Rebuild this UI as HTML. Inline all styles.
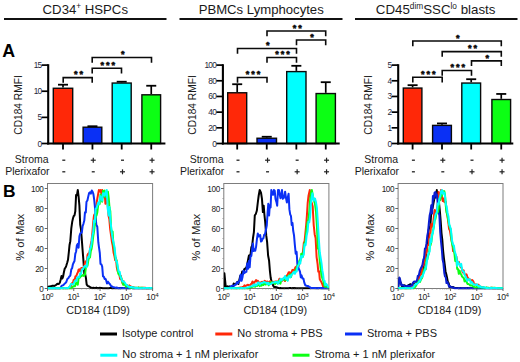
<!DOCTYPE html>
<html><head><meta charset="utf-8"><title>Figure</title>
<style>
html,body{margin:0;padding:0;background:#fff;}
body{width:520px;height:362px;overflow:hidden;}
svg{display:block;font-family:"Liberation Sans", Arial, sans-serif;}
</style></head><body>
<svg width="520" height="362" viewBox="0 0 520 362">
<rect width="520" height="362" fill="#fff"/>
<line x1="4.00" y1="18.90" x2="166.50" y2="18.90" stroke="#111" stroke-width="2.0" />
<line x1="179.50" y1="18.90" x2="342.50" y2="18.90" stroke="#111" stroke-width="2.0" />
<line x1="355.00" y1="18.90" x2="517.50" y2="18.90" stroke="#111" stroke-width="2.0" />
<text x="85.30" y="14.00" font-size="13.2" text-anchor="middle" font-weight="normal" fill="#1a1a1a" >CD34<tspan font-size="8.2" dy="-4.8">+</tspan><tspan dy="4.8"> HSPCs</tspan></text>
<text x="261.20" y="14.00" font-size="13.15" text-anchor="middle" font-weight="normal" fill="#1a1a1a" >PBMCs Lymphocytes</text>
<text x="435.60" y="14.00" font-size="13.3" text-anchor="middle" font-weight="normal" fill="#1a1a1a" >CD45<tspan font-size="8.3" dy="-4.8">dim</tspan><tspan dy="4.8">SSC</tspan><tspan font-size="8.3" dy="-4.8">lo</tspan><tspan dy="4.8"> blasts</tspan></text>
<text x="2.20" y="57.20" font-size="17.8" text-anchor="start" font-weight="bold" fill="#000" >A</text>
<text x="3.00" y="197.00" font-size="17.4" text-anchor="start" font-weight="bold" fill="#000" >B</text>
<line x1="63.00" y1="87.57" x2="63.00" y2="84.70" stroke="#000" stroke-width="1.7" />
<line x1="58.00" y1="84.70" x2="68.00" y2="84.70" stroke="#000" stroke-width="1.8" />
<rect x="53.30" y="88.27" width="19.40" height="55.23" fill="#ff2808" stroke="#0a0a0a" stroke-width="1.4"/>
<line x1="63.00" y1="143.50" x2="63.00" y2="149.50" stroke="#000" stroke-width="1.8" />
<line x1="92.45" y1="126.51" x2="92.45" y2="126.25" stroke="#000" stroke-width="1.7" />
<line x1="87.45" y1="126.25" x2="97.45" y2="126.25" stroke="#000" stroke-width="1.8" />
<rect x="83.10" y="127.21" width="18.70" height="16.29" fill="#0a30f5" stroke="#0a0a0a" stroke-width="1.4"/>
<line x1="92.45" y1="143.50" x2="92.45" y2="149.50" stroke="#000" stroke-width="1.8" />
<line x1="121.70" y1="82.35" x2="121.70" y2="81.72" stroke="#000" stroke-width="1.7" />
<line x1="116.70" y1="81.72" x2="126.70" y2="81.72" stroke="#000" stroke-width="1.8" />
<rect x="112.20" y="83.05" width="19.00" height="60.45" fill="#00ffff" stroke="#0a0a0a" stroke-width="1.4"/>
<line x1="121.70" y1="143.50" x2="121.70" y2="149.50" stroke="#000" stroke-width="1.8" />
<line x1="151.25" y1="94.11" x2="151.25" y2="85.75" stroke="#000" stroke-width="1.7" />
<line x1="146.25" y1="85.75" x2="156.25" y2="85.75" stroke="#000" stroke-width="1.8" />
<rect x="141.90" y="94.81" width="18.70" height="48.69" fill="#0cff14" stroke="#0a0a0a" stroke-width="1.4"/>
<line x1="151.25" y1="143.50" x2="151.25" y2="149.50" stroke="#000" stroke-width="1.8" />
<line x1="48.20" y1="64.20" x2="48.20" y2="144.50" stroke="#000" stroke-width="2.1" />
<line x1="47.20" y1="143.50" x2="165.40" y2="143.50" stroke="#000" stroke-width="2.0" />
<line x1="41.60" y1="143.50" x2="48.20" y2="143.50" stroke="#000" stroke-width="1.7" />
<text x="41.40" y="146.50" font-size="8.3" text-anchor="end" font-weight="normal" fill="#26263a" letter-spacing="-0.75">0</text>
<line x1="41.60" y1="117.37" x2="48.20" y2="117.37" stroke="#000" stroke-width="1.7" />
<text x="41.40" y="120.37" font-size="8.3" text-anchor="end" font-weight="normal" fill="#26263a" letter-spacing="-0.75">5</text>
<line x1="41.60" y1="91.23" x2="48.20" y2="91.23" stroke="#000" stroke-width="1.7" />
<text x="41.40" y="94.23" font-size="8.3" text-anchor="end" font-weight="normal" fill="#26263a" letter-spacing="-0.75">10</text>
<line x1="41.60" y1="65.10" x2="48.20" y2="65.10" stroke="#000" stroke-width="1.7" />
<text x="41.40" y="68.10" font-size="8.3" text-anchor="end" font-weight="normal" fill="#26263a" letter-spacing="-0.75">15</text>
<text transform="translate(22,105) rotate(-90)" font-size="10.2" text-anchor="middle" fill="#1a1a1a">CD184 RMFI</text>
<polyline points="63.2,82.8 63.2,77.6 92.2,77.6 92.2,82.8" fill="none" stroke="#0a0a0a" stroke-width="1.6"/>
<text x="75.75" y="77.20" font-size="9" text-anchor="middle" fill="#0a0a0a" stroke="#0a0a0a" stroke-width="0.55" stroke-linejoin="round" font-weight="bold">*</text>
<text x="81.25" y="77.20" font-size="9" text-anchor="middle" fill="#0a0a0a" stroke="#0a0a0a" stroke-width="0.55" stroke-linejoin="round" font-weight="bold">*</text>
<polyline points="92.2,73.4 92.2,68.2 121.5,68.2 121.5,73.4" fill="none" stroke="#0a0a0a" stroke-width="1.6"/>
<text x="102.15" y="67.80" font-size="9" text-anchor="middle" fill="#0a0a0a" stroke="#0a0a0a" stroke-width="0.55" stroke-linejoin="round" font-weight="bold">*</text>
<text x="107.65" y="67.80" font-size="9" text-anchor="middle" fill="#0a0a0a" stroke="#0a0a0a" stroke-width="0.55" stroke-linejoin="round" font-weight="bold">*</text>
<text x="113.15" y="67.80" font-size="9" text-anchor="middle" fill="#0a0a0a" stroke="#0a0a0a" stroke-width="0.55" stroke-linejoin="round" font-weight="bold">*</text>
<polyline points="92.2,62.7 92.2,57.5 151.5,57.5 151.5,62.7" fill="none" stroke="#0a0a0a" stroke-width="1.6"/>
<text x="122.65" y="57.10" font-size="9" text-anchor="middle" fill="#0a0a0a" stroke="#0a0a0a" stroke-width="0.55" stroke-linejoin="round" font-weight="bold">*</text>
<text x="48.70" y="163.20" font-size="10.5" text-anchor="end" font-weight="normal" fill="#1a1a1a" >Stroma</text>
<text x="49.50" y="174.80" font-size="10.5" text-anchor="end" font-weight="normal" fill="#1a1a1a" >Plerixafor</text>
<line x1="62.30" y1="160.20" x2="65.30" y2="160.20" stroke="#222" stroke-width="1.3" />
<line x1="62.30" y1="171.80" x2="65.30" y2="171.80" stroke="#222" stroke-width="1.3" />
<line x1="90.75" y1="160.20" x2="95.75" y2="160.20" stroke="#222" stroke-width="1.2" />
<line x1="93.25" y1="157.70" x2="93.25" y2="162.70" stroke="#222" stroke-width="1.2" />
<line x1="91.75" y1="171.80" x2="94.75" y2="171.80" stroke="#222" stroke-width="1.3" />
<line x1="121.00" y1="160.20" x2="124.00" y2="160.20" stroke="#222" stroke-width="1.3" />
<line x1="120.00" y1="171.80" x2="125.00" y2="171.80" stroke="#222" stroke-width="1.2" />
<line x1="122.50" y1="169.30" x2="122.50" y2="174.30" stroke="#222" stroke-width="1.2" />
<line x1="149.55" y1="160.20" x2="154.55" y2="160.20" stroke="#222" stroke-width="1.2" />
<line x1="152.05" y1="157.70" x2="152.05" y2="162.70" stroke="#222" stroke-width="1.2" />
<line x1="149.55" y1="171.80" x2="154.55" y2="171.80" stroke="#222" stroke-width="1.2" />
<line x1="152.05" y1="169.30" x2="152.05" y2="174.30" stroke="#222" stroke-width="1.2" />
<line x1="237.20" y1="92.07" x2="237.20" y2="84.23" stroke="#000" stroke-width="1.7" />
<line x1="232.20" y1="84.23" x2="242.20" y2="84.23" stroke="#000" stroke-width="1.8" />
<rect x="227.70" y="92.77" width="19.00" height="50.73" fill="#ff2808" stroke="#0a0a0a" stroke-width="1.4"/>
<line x1="237.20" y1="143.50" x2="237.20" y2="149.50" stroke="#000" stroke-width="1.8" />
<line x1="266.75" y1="137.54" x2="266.75" y2="136.76" stroke="#000" stroke-width="1.7" />
<line x1="261.75" y1="136.76" x2="271.75" y2="136.76" stroke="#000" stroke-width="1.8" />
<rect x="257.00" y="138.24" width="19.50" height="5.26" fill="#0a30f5" stroke="#0a0a0a" stroke-width="1.4"/>
<line x1="266.75" y1="143.50" x2="266.75" y2="149.50" stroke="#000" stroke-width="1.8" />
<line x1="296.35" y1="70.90" x2="296.35" y2="65.81" stroke="#000" stroke-width="1.7" />
<line x1="291.35" y1="65.81" x2="301.35" y2="65.81" stroke="#000" stroke-width="1.8" />
<rect x="286.70" y="71.60" width="19.30" height="71.90" fill="#00ffff" stroke="#0a0a0a" stroke-width="1.4"/>
<line x1="296.35" y1="143.50" x2="296.35" y2="149.50" stroke="#000" stroke-width="1.8" />
<line x1="325.75" y1="92.85" x2="325.75" y2="82.19" stroke="#000" stroke-width="1.7" />
<line x1="320.75" y1="82.19" x2="330.75" y2="82.19" stroke="#000" stroke-width="1.8" />
<rect x="316.10" y="93.55" width="19.30" height="49.95" fill="#0cff14" stroke="#0a0a0a" stroke-width="1.4"/>
<line x1="325.75" y1="143.50" x2="325.75" y2="149.50" stroke="#000" stroke-width="1.8" />
<line x1="222.90" y1="64.20" x2="222.90" y2="144.50" stroke="#000" stroke-width="2.1" />
<line x1="221.90" y1="143.50" x2="339.70" y2="143.50" stroke="#000" stroke-width="2.0" />
<line x1="216.30" y1="143.50" x2="222.90" y2="143.50" stroke="#000" stroke-width="1.7" />
<text x="216.10" y="146.50" font-size="8.3" text-anchor="end" font-weight="normal" fill="#26263a" letter-spacing="-0.75">0</text>
<line x1="216.30" y1="127.82" x2="222.90" y2="127.82" stroke="#000" stroke-width="1.7" />
<text x="216.10" y="130.82" font-size="8.3" text-anchor="end" font-weight="normal" fill="#26263a" letter-spacing="-0.75">20</text>
<line x1="216.30" y1="112.14" x2="222.90" y2="112.14" stroke="#000" stroke-width="1.7" />
<text x="216.10" y="115.14" font-size="8.3" text-anchor="end" font-weight="normal" fill="#26263a" letter-spacing="-0.75">40</text>
<line x1="216.30" y1="96.46" x2="222.90" y2="96.46" stroke="#000" stroke-width="1.7" />
<text x="216.10" y="99.46" font-size="8.3" text-anchor="end" font-weight="normal" fill="#26263a" letter-spacing="-0.75">60</text>
<line x1="216.30" y1="80.78" x2="222.90" y2="80.78" stroke="#000" stroke-width="1.7" />
<text x="216.10" y="83.78" font-size="8.3" text-anchor="end" font-weight="normal" fill="#26263a" letter-spacing="-0.75">80</text>
<line x1="216.30" y1="65.10" x2="222.90" y2="65.10" stroke="#000" stroke-width="1.7" />
<text x="216.10" y="68.10" font-size="8.3" text-anchor="end" font-weight="normal" fill="#26263a" letter-spacing="-0.75">100</text>
<text transform="translate(196,105) rotate(-90)" font-size="10.2" text-anchor="middle" fill="#1a1a1a">CD184 RMFI</text>
<polyline points="237.5,82.7 237.5,77.5 267,77.5 267,82.7" fill="none" stroke="#0a0a0a" stroke-width="1.6"/>
<text x="247.55" y="77.10" font-size="9" text-anchor="middle" fill="#0a0a0a" stroke="#0a0a0a" stroke-width="0.55" stroke-linejoin="round" font-weight="bold">*</text>
<text x="253.05" y="77.10" font-size="9" text-anchor="middle" fill="#0a0a0a" stroke="#0a0a0a" stroke-width="0.55" stroke-linejoin="round" font-weight="bold">*</text>
<text x="258.55" y="77.10" font-size="9" text-anchor="middle" fill="#0a0a0a" stroke="#0a0a0a" stroke-width="0.55" stroke-linejoin="round" font-weight="bold">*</text>
<polyline points="267,62.7 267,57.5 296.5,57.5 296.5,62.7" fill="none" stroke="#0a0a0a" stroke-width="1.6"/>
<text x="277.05" y="57.10" font-size="9" text-anchor="middle" fill="#0a0a0a" stroke="#0a0a0a" stroke-width="0.55" stroke-linejoin="round" font-weight="bold">*</text>
<text x="282.55" y="57.10" font-size="9" text-anchor="middle" fill="#0a0a0a" stroke="#0a0a0a" stroke-width="0.55" stroke-linejoin="round" font-weight="bold">*</text>
<text x="288.05" y="57.10" font-size="9" text-anchor="middle" fill="#0a0a0a" stroke="#0a0a0a" stroke-width="0.55" stroke-linejoin="round" font-weight="bold">*</text>
<polyline points="237.5,53.7 237.5,48.5 296.5,48.5 296.5,53.7" fill="none" stroke="#0a0a0a" stroke-width="1.6"/>
<text x="267.80" y="48.10" font-size="9" text-anchor="middle" fill="#0a0a0a" stroke="#0a0a0a" stroke-width="0.55" stroke-linejoin="round" font-weight="bold">*</text>
<polyline points="296.5,45.2 296.5,40 325.7,40 325.7,45.2" fill="none" stroke="#0a0a0a" stroke-width="1.6"/>
<text x="311.90" y="39.60" font-size="9" text-anchor="middle" fill="#0a0a0a" stroke="#0a0a0a" stroke-width="0.55" stroke-linejoin="round" font-weight="bold">*</text>
<polyline points="267,36.2 267,31 325.7,31 325.7,36.2" fill="none" stroke="#0a0a0a" stroke-width="1.6"/>
<text x="294.40" y="30.60" font-size="9" text-anchor="middle" fill="#0a0a0a" stroke="#0a0a0a" stroke-width="0.55" stroke-linejoin="round" font-weight="bold">*</text>
<text x="299.90" y="30.60" font-size="9" text-anchor="middle" fill="#0a0a0a" stroke="#0a0a0a" stroke-width="0.55" stroke-linejoin="round" font-weight="bold">*</text>
<text x="223.50" y="163.20" font-size="10.5" text-anchor="end" font-weight="normal" fill="#1a1a1a" >Stroma</text>
<text x="224.30" y="174.80" font-size="10.5" text-anchor="end" font-weight="normal" fill="#1a1a1a" >Plerixafor</text>
<line x1="236.50" y1="160.20" x2="239.50" y2="160.20" stroke="#222" stroke-width="1.3" />
<line x1="236.50" y1="171.80" x2="239.50" y2="171.80" stroke="#222" stroke-width="1.3" />
<line x1="265.05" y1="160.20" x2="270.05" y2="160.20" stroke="#222" stroke-width="1.2" />
<line x1="267.55" y1="157.70" x2="267.55" y2="162.70" stroke="#222" stroke-width="1.2" />
<line x1="266.05" y1="171.80" x2="269.05" y2="171.80" stroke="#222" stroke-width="1.3" />
<line x1="295.65" y1="160.20" x2="298.65" y2="160.20" stroke="#222" stroke-width="1.3" />
<line x1="294.65" y1="171.80" x2="299.65" y2="171.80" stroke="#222" stroke-width="1.2" />
<line x1="297.15" y1="169.30" x2="297.15" y2="174.30" stroke="#222" stroke-width="1.2" />
<line x1="324.05" y1="160.20" x2="329.05" y2="160.20" stroke="#222" stroke-width="1.2" />
<line x1="326.55" y1="157.70" x2="326.55" y2="162.70" stroke="#222" stroke-width="1.2" />
<line x1="324.05" y1="171.80" x2="329.05" y2="171.80" stroke="#222" stroke-width="1.2" />
<line x1="326.55" y1="169.30" x2="326.55" y2="174.30" stroke="#222" stroke-width="1.2" />
<line x1="412.60" y1="87.37" x2="412.60" y2="85.17" stroke="#000" stroke-width="1.7" />
<line x1="407.60" y1="85.17" x2="417.60" y2="85.17" stroke="#000" stroke-width="1.8" />
<rect x="403.30" y="88.07" width="18.60" height="55.43" fill="#ff2808" stroke="#0a0a0a" stroke-width="1.4"/>
<line x1="412.60" y1="143.50" x2="412.60" y2="149.50" stroke="#000" stroke-width="1.8" />
<line x1="442.00" y1="124.68" x2="442.00" y2="123.43" stroke="#000" stroke-width="1.7" />
<line x1="437.00" y1="123.43" x2="447.00" y2="123.43" stroke="#000" stroke-width="1.8" />
<rect x="432.60" y="125.38" width="18.80" height="18.12" fill="#0a30f5" stroke="#0a0a0a" stroke-width="1.4"/>
<line x1="442.00" y1="143.50" x2="442.00" y2="149.50" stroke="#000" stroke-width="1.8" />
<line x1="471.20" y1="82.35" x2="471.20" y2="79.21" stroke="#000" stroke-width="1.7" />
<line x1="466.20" y1="79.21" x2="476.20" y2="79.21" stroke="#000" stroke-width="1.8" />
<rect x="461.80" y="83.05" width="18.80" height="60.45" fill="#00ffff" stroke="#0a0a0a" stroke-width="1.4"/>
<line x1="471.20" y1="143.50" x2="471.20" y2="149.50" stroke="#000" stroke-width="1.8" />
<line x1="501.25" y1="98.81" x2="501.25" y2="93.95" stroke="#000" stroke-width="1.7" />
<line x1="496.25" y1="93.95" x2="506.25" y2="93.95" stroke="#000" stroke-width="1.8" />
<rect x="491.90" y="99.51" width="18.70" height="43.99" fill="#0cff14" stroke="#0a0a0a" stroke-width="1.4"/>
<line x1="501.25" y1="143.50" x2="501.25" y2="149.50" stroke="#000" stroke-width="1.8" />
<line x1="398.20" y1="64.20" x2="398.20" y2="144.50" stroke="#000" stroke-width="2.1" />
<line x1="397.20" y1="143.50" x2="513.30" y2="143.50" stroke="#000" stroke-width="2.0" />
<line x1="391.60" y1="143.50" x2="398.20" y2="143.50" stroke="#000" stroke-width="1.7" />
<text x="391.40" y="146.50" font-size="8.3" text-anchor="end" font-weight="normal" fill="#26263a" letter-spacing="-0.75">0</text>
<line x1="391.60" y1="127.82" x2="398.20" y2="127.82" stroke="#000" stroke-width="1.7" />
<text x="391.40" y="130.82" font-size="8.3" text-anchor="end" font-weight="normal" fill="#26263a" letter-spacing="-0.75">1</text>
<line x1="391.60" y1="112.14" x2="398.20" y2="112.14" stroke="#000" stroke-width="1.7" />
<text x="391.40" y="115.14" font-size="8.3" text-anchor="end" font-weight="normal" fill="#26263a" letter-spacing="-0.75">2</text>
<line x1="391.60" y1="96.46" x2="398.20" y2="96.46" stroke="#000" stroke-width="1.7" />
<text x="391.40" y="99.46" font-size="8.3" text-anchor="end" font-weight="normal" fill="#26263a" letter-spacing="-0.75">3</text>
<line x1="391.60" y1="80.78" x2="398.20" y2="80.78" stroke="#000" stroke-width="1.7" />
<text x="391.40" y="83.78" font-size="8.3" text-anchor="end" font-weight="normal" fill="#26263a" letter-spacing="-0.75">4</text>
<line x1="391.60" y1="65.10" x2="398.20" y2="65.10" stroke="#000" stroke-width="1.7" />
<text x="391.40" y="68.10" font-size="8.3" text-anchor="end" font-weight="normal" fill="#26263a" letter-spacing="-0.75">5</text>
<text transform="translate(371.5,105) rotate(-90)" font-size="10.2" text-anchor="middle" fill="#1a1a1a">CD184 RMFI</text>
<polyline points="412.8,82.5 412.8,77.3 442.2,77.3 442.2,82.5" fill="none" stroke="#0a0a0a" stroke-width="1.6"/>
<text x="422.80" y="76.90" font-size="9" text-anchor="middle" fill="#0a0a0a" stroke="#0a0a0a" stroke-width="0.55" stroke-linejoin="round" font-weight="bold">*</text>
<text x="428.30" y="76.90" font-size="9" text-anchor="middle" fill="#0a0a0a" stroke="#0a0a0a" stroke-width="0.55" stroke-linejoin="round" font-weight="bold">*</text>
<text x="433.80" y="76.90" font-size="9" text-anchor="middle" fill="#0a0a0a" stroke="#0a0a0a" stroke-width="0.55" stroke-linejoin="round" font-weight="bold">*</text>
<polyline points="442.2,75.7 442.2,70.5 471.5,70.5 471.5,75.7" fill="none" stroke="#0a0a0a" stroke-width="1.6"/>
<text x="452.15" y="70.10" font-size="9" text-anchor="middle" fill="#0a0a0a" stroke="#0a0a0a" stroke-width="0.55" stroke-linejoin="round" font-weight="bold">*</text>
<text x="457.65" y="70.10" font-size="9" text-anchor="middle" fill="#0a0a0a" stroke="#0a0a0a" stroke-width="0.55" stroke-linejoin="round" font-weight="bold">*</text>
<text x="463.15" y="70.10" font-size="9" text-anchor="middle" fill="#0a0a0a" stroke="#0a0a0a" stroke-width="0.55" stroke-linejoin="round" font-weight="bold">*</text>
<polyline points="471.5,66.1 471.5,60.9 501.3,60.9 501.3,66.1" fill="none" stroke="#0a0a0a" stroke-width="1.6"/>
<text x="487.20" y="60.50" font-size="9" text-anchor="middle" fill="#0a0a0a" stroke="#0a0a0a" stroke-width="0.55" stroke-linejoin="round" font-weight="bold">*</text>
<polyline points="442.2,56.800000000000004 442.2,51.6 501.3,51.6 501.3,56.800000000000004" fill="none" stroke="#0a0a0a" stroke-width="1.6"/>
<text x="469.80" y="51.20" font-size="9" text-anchor="middle" fill="#0a0a0a" stroke="#0a0a0a" stroke-width="0.55" stroke-linejoin="round" font-weight="bold">*</text>
<text x="475.30" y="51.20" font-size="9" text-anchor="middle" fill="#0a0a0a" stroke="#0a0a0a" stroke-width="0.55" stroke-linejoin="round" font-weight="bold">*</text>
<polyline points="412.8,46.2 412.8,41.0 501.3,41.0 501.3,46.2" fill="none" stroke="#0a0a0a" stroke-width="1.6"/>
<text x="457.85" y="40.60" font-size="9" text-anchor="middle" fill="#0a0a0a" stroke="#0a0a0a" stroke-width="0.55" stroke-linejoin="round" font-weight="bold">*</text>
<text x="398.20" y="163.20" font-size="10.5" text-anchor="end" font-weight="normal" fill="#1a1a1a" >Stroma</text>
<text x="399.00" y="174.80" font-size="10.5" text-anchor="end" font-weight="normal" fill="#1a1a1a" >Plerixafor</text>
<line x1="411.90" y1="160.20" x2="414.90" y2="160.20" stroke="#222" stroke-width="1.3" />
<line x1="411.90" y1="171.80" x2="414.90" y2="171.80" stroke="#222" stroke-width="1.3" />
<line x1="440.30" y1="160.20" x2="445.30" y2="160.20" stroke="#222" stroke-width="1.2" />
<line x1="442.80" y1="157.70" x2="442.80" y2="162.70" stroke="#222" stroke-width="1.2" />
<line x1="441.30" y1="171.80" x2="444.30" y2="171.80" stroke="#222" stroke-width="1.3" />
<line x1="470.50" y1="160.20" x2="473.50" y2="160.20" stroke="#222" stroke-width="1.3" />
<line x1="469.50" y1="171.80" x2="474.50" y2="171.80" stroke="#222" stroke-width="1.2" />
<line x1="472.00" y1="169.30" x2="472.00" y2="174.30" stroke="#222" stroke-width="1.2" />
<line x1="499.55" y1="160.20" x2="504.55" y2="160.20" stroke="#222" stroke-width="1.2" />
<line x1="502.05" y1="157.70" x2="502.05" y2="162.70" stroke="#222" stroke-width="1.2" />
<line x1="499.55" y1="171.80" x2="504.55" y2="171.80" stroke="#222" stroke-width="1.2" />
<line x1="502.05" y1="169.30" x2="502.05" y2="174.30" stroke="#222" stroke-width="1.2" />
<clipPath id="c47"><rect x="47.5" y="183.5" width="105.1" height="106.2"/></clipPath>
<rect x="47.5" y="183.5" width="105.1" height="105.0" fill="none" stroke="#7d7d7d" stroke-width="1"/>
<g clip-path="url(#c47)">
<polyline fill="none" stroke="#000" stroke-width="2.0" stroke-linejoin="round" stroke-linecap="butt" points="47.5,287.4 48.3,286.8 49.2,286.6 50.0,286.5 50.8,286.3 51.7,286.2 52.5,285.7 53.4,285.8 54.3,285.9 55.3,285.4 56.3,284.7 57.3,283.8 58.2,284.0 59.1,283.8 59.9,282.5 60.7,279.4 61.5,275.9 62.3,278.5 63.1,276.6 63.9,272.3 64.7,268.7 65.6,267.5 66.4,265.3 67.2,262.8 68.0,259.8 68.8,252.5 69.5,245.3 70.3,241.2 71.3,228.3 72.2,221.9 73.0,218.3 73.7,216.1 74.5,215.4 75.3,211.2 76.1,194.9 76.9,195.3 77.8,190.0 78.6,196.5 79.4,205.6 80.2,224.5 81.0,229.4 81.8,239.5 82.6,250.2 83.5,261.3 84.3,274.0 85.1,273.7 85.9,277.8 86.7,284.6 87.5,285.6 88.3,286.2 89.1,286.4 90.0,287.0 90.8,287.8 91.7,287.7 92.6,287.9 93.5,287.8 94.4,288.0 95.4,288.1 96.3,287.6 97.2,288.1 98.1,288.2 99.0,287.9 99.9,287.8 100.8,288.1 101.8,287.9 102.7,288.3 103.6,288.2 104.5,288.3 105.4,288.3 106.3,288.3 107.2,288.2 108.1,288.2 109.0,288.3 110.0,288.1 110.9,288.1 111.8,288.3 112.7,288.0 113.6,288.3 114.5,288.3 115.4,288.3 116.3,288.3 117.2,288.0 118.1,288.3 119.0,288.3 119.9,288.1 120.8,288.3 121.8,288.1 122.7,288.1 123.6,288.0 124.5,288.1 125.4,288.0 126.3,288.3 127.2,288.2 128.1,288.2 129.0,288.3 129.9,288.3 130.8,288.1 131.7,288.1 132.6,288.3 133.5,288.1 134.5,288.3 135.4,288.1 136.3,288.3 137.2,288.3 138.1,288.2 139.0,288.2 139.9,288.3 140.8,288.3 141.7,288.3 142.6,288.3 143.5,288.3 144.4,288.3 145.3,288.2 146.2,288.0 147.2,288.2 148.1,288.3 149.0,288.3 149.9,288.3 150.8,288.1 151.7,288.1 152.6,288.3"/>
<polyline fill="none" stroke="#ff2808" stroke-width="2.0" stroke-linejoin="round" stroke-linecap="butt" points="47.5,288.3 48.4,288.3 49.3,288.3 50.2,288.3 51.1,288.3 52.0,288.2 52.8,288.3 53.7,288.3 54.6,288.3 55.5,288.3 56.4,288.2 57.3,288.3 58.2,288.3 59.1,288.3 60.0,288.3 60.9,288.1 61.8,288.0 62.7,288.3 63.5,288.3 64.4,288.3 65.3,288.1 66.2,288.2 67.1,288.3 68.0,288.1 69.0,287.6 70.0,286.1 70.9,286.2 71.9,283.3 72.9,282.9 73.7,279.8 74.6,281.1 75.4,276.4 76.3,276.0 77.1,273.8 77.9,272.3 78.6,269.6 79.4,269.3 80.4,271.6 81.3,268.0 82.3,268.3 83.3,268.7 84.3,266.0 85.1,261.9 85.9,261.3 86.7,262.8 87.5,255.0 88.3,253.6 89.1,253.8 90.0,249.7 90.8,244.1 91.6,240.4 92.4,232.7 93.2,222.6 94.0,215.3 94.8,214.0 95.5,215.1 96.3,205.5 97.2,199.3 98.0,194.9 98.9,190.0 99.7,191.4 100.5,190.0 101.4,193.9 102.2,190.0 103.0,197.3 103.8,195.4 104.6,192.1 105.4,203.8 106.2,201.7 107.0,196.1 107.8,206.6 108.6,216.1 109.3,218.9 110.2,229.4 111.1,235.6 111.9,241.7 112.7,245.5 113.6,252.8 114.4,255.9 115.2,260.2 116.0,258.2 116.8,267.4 117.6,271.2 118.4,271.7 119.2,273.5 120.1,278.9 120.9,276.0 121.7,280.8 122.7,283.8 123.6,281.2 124.6,283.8 125.6,285.6 126.6,285.0 127.5,285.7 128.4,286.2 129.3,285.4 130.2,286.2 131.1,286.7 132.0,287.2 132.9,287.1 133.8,287.3 134.7,287.7 135.6,287.7 136.5,287.9 137.4,288.0 138.3,287.5 139.2,288.0 140.1,287.8 141.0,288.1 141.9,287.7 142.8,288.2 143.7,287.7 144.5,287.7 145.4,287.8 146.3,288.3 147.2,287.9 148.1,288.3 149.0,288.1 149.9,288.1 150.8,288.1 151.7,288.0 152.6,288.1"/>
<polyline fill="none" stroke="#0a30f5" stroke-width="2.0" stroke-linejoin="round" stroke-linecap="butt" points="47.5,288.2 48.4,288.3 49.3,288.3 50.1,288.3 51.0,288.2 51.9,288.2 52.8,288.1 53.7,288.2 54.6,288.3 55.4,288.3 56.3,288.3 57.2,288.3 58.1,288.3 59.0,288.2 59.9,288.3 60.8,287.3 61.7,285.7 62.7,285.4 63.6,284.8 64.5,283.9 65.4,283.0 66.4,281.8 67.3,279.0 68.3,278.2 69.3,276.5 70.3,275.7 71.3,269.4 72.1,268.2 72.9,264.3 73.7,262.5 74.5,261.0 75.3,253.9 76.1,251.5 76.9,245.2 77.8,243.8 78.6,247.8 79.4,236.4 80.2,233.7 81.0,232.7 81.8,232.7 82.6,226.3 83.5,223.6 84.3,220.6 85.0,212.2 85.8,212.4 86.5,201.8 87.4,200.5 88.3,196.4 89.1,193.0 90.0,192.3 90.9,193.6 91.8,190.4 92.6,191.7 93.4,194.1 94.2,199.6 95.0,208.0 96.3,224.8 97.3,226.8 98.3,242.2 99.0,247.4 99.8,253.0 100.5,263.9 101.4,264.4 102.2,266.6 103.0,276.3 103.8,276.7 104.6,278.9 105.4,278.7 106.2,280.4 107.0,283.5 108.0,281.7 109.0,283.2 110.0,284.2 111.0,286.0 111.9,286.4 112.9,287.1 113.8,287.3 114.7,287.6 115.6,287.7 116.6,287.6 117.5,287.8 118.4,288.3 119.3,288.3 120.2,288.3 121.1,288.3 122.0,288.3 122.9,288.3 123.8,288.0 124.7,288.3 125.6,288.2 126.5,288.3 127.4,288.3 128.3,288.3 129.2,288.3 130.1,288.3 131.0,288.0 131.9,288.1 132.8,288.2 133.7,288.3 134.6,288.2 135.5,288.3 136.4,288.2 137.3,288.3 138.2,288.1 139.1,288.3 140.0,288.3 140.9,288.0 141.8,288.3 142.7,288.3 143.6,288.3 144.5,288.1 145.4,288.3 146.3,288.3 147.2,288.3 148.1,288.3 149.0,288.3 149.9,288.3 150.8,288.3 151.7,288.3 152.6,288.2"/>
<polyline fill="none" stroke="#0cff14" stroke-width="2.0" stroke-linejoin="round" stroke-linecap="butt" points="47.5,288.3 48.4,288.3 49.3,288.3 50.2,288.3 51.2,288.3 52.1,288.3 53.0,288.3 53.9,288.3 54.8,288.2 55.7,288.3 56.6,288.2 57.5,288.2 58.5,288.3 59.4,288.3 60.3,288.3 61.2,288.3 62.1,288.3 63.0,288.1 63.9,288.3 64.9,288.3 65.8,288.2 66.7,288.1 67.6,288.3 68.5,288.3 69.4,288.3 70.3,288.2 71.3,288.3 72.2,287.2 73.1,286.7 74.0,285.9 75.0,286.2 75.9,283.1 76.8,282.8 77.8,284.7 78.6,278.1 79.4,278.0 80.2,277.2 81.0,275.6 81.8,276.0 82.6,275.0 83.5,275.9 84.3,275.5 85.1,274.2 85.9,267.3 86.7,266.5 87.5,265.7 88.3,260.4 89.1,257.0 90.0,257.4 90.8,251.2 91.6,248.7 92.4,243.5 93.2,236.7 94.0,231.7 94.8,225.0 95.7,215.8 96.5,215.5 97.3,212.4 98.1,205.6 98.9,203.9 99.7,203.9 100.5,194.5 101.4,198.7 102.2,201.8 103.0,190.8 103.8,191.9 104.6,190.6 105.4,197.1 106.2,192.1 107.0,194.3 107.9,191.6 108.7,197.8 109.5,207.5 110.3,211.2 111.1,228.3 111.8,232.9 112.6,231.6 113.4,244.3 114.2,247.6 115.0,254.6 115.8,260.0 116.6,260.3 117.5,266.9 118.3,273.8 119.1,274.5 119.9,275.6 120.8,276.9 121.6,278.8 122.5,282.2 123.3,284.9 124.2,284.4 125.2,284.8 126.1,286.8 127.0,285.5 128.0,286.1 128.9,287.1 129.8,287.8 130.7,287.7 131.6,287.8 132.6,287.8 133.5,287.5 134.4,288.1 135.3,287.9 136.2,287.7 137.1,287.7 138.0,287.8 138.9,287.6 139.8,287.9 140.8,287.8 141.7,287.8 142.6,287.7 143.5,288.2 144.4,287.9 145.3,288.1 146.2,287.9 147.1,288.3 148.0,288.0 149.0,288.1 149.9,288.3 150.8,288.1 151.7,288.2 152.6,288.1"/>
<polyline fill="none" stroke="#00ffff" stroke-width="2.0" stroke-linejoin="round" stroke-linecap="butt" points="47.5,288.3 48.4,288.2 49.3,288.1 50.2,288.3 51.1,288.3 52.0,288.3 52.8,288.3 53.7,288.3 54.6,288.1 55.5,288.3 56.4,288.3 57.3,288.2 58.2,288.3 59.1,288.3 60.0,288.2 60.9,288.3 61.8,288.3 62.7,288.2 63.5,288.3 64.4,288.3 65.3,288.0 66.2,288.3 67.1,288.0 68.0,288.3 68.9,287.2 69.9,286.4 70.8,284.1 71.7,284.3 72.6,284.3 73.6,284.0 74.5,281.5 75.4,280.3 76.4,281.0 77.3,277.3 78.2,277.3 79.2,277.4 80.1,273.6 81.0,274.1 82.0,269.3 83.0,269.3 83.9,267.2 84.9,265.9 85.9,266.3 86.7,266.9 87.5,258.6 88.3,256.7 89.1,257.1 90.0,248.6 90.8,247.6 91.6,243.0 92.4,235.8 93.2,232.6 94.0,220.4 94.8,222.2 95.7,208.7 96.5,208.3 97.3,205.5 98.1,202.8 98.9,204.3 99.7,199.8 100.5,196.3 101.4,198.3 102.2,200.7 103.0,193.3 103.9,193.5 104.8,195.6 105.7,192.1 106.7,190.0 107.7,208.8 108.7,215.5 109.5,207.1 110.4,220.3 111.3,228.2 112.1,235.4 112.9,240.1 113.7,243.1 114.5,246.9 115.3,254.6 116.2,261.4 117.0,261.9 117.8,267.1 118.8,271.7 119.7,271.7 120.7,277.1 121.7,279.7 122.6,281.6 123.5,281.4 124.5,282.2 125.4,283.6 126.3,284.8 127.3,285.3 128.2,286.7 129.1,286.6 130.0,286.9 130.9,287.1 131.7,287.1 132.6,287.6 133.5,287.3 134.4,287.7 135.3,288.1 136.2,287.7 137.1,288.0 138.0,288.3 138.9,288.2 139.8,288.3 140.7,288.3 141.6,288.3 142.5,288.3 143.4,288.1 144.4,288.1 145.3,288.2 146.2,288.1 147.1,288.0 148.0,288.1 148.9,288.2 149.9,288.3 150.8,288.0 151.7,288.3 152.6,288.3"/>
</g>
<line x1="44.70" y1="288.50" x2="47.50" y2="288.50" stroke="#555" stroke-width="0.9" />
<text x="43.50" y="291.50" font-size="8.2" text-anchor="end" font-weight="normal" fill="#222" letter-spacing="-0.4">0</text>
<line x1="44.70" y1="268.50" x2="47.50" y2="268.50" stroke="#555" stroke-width="0.9" />
<text x="43.50" y="271.50" font-size="8.2" text-anchor="end" font-weight="normal" fill="#222" letter-spacing="-0.4">20</text>
<line x1="44.70" y1="248.50" x2="47.50" y2="248.50" stroke="#555" stroke-width="0.9" />
<text x="43.50" y="251.50" font-size="8.2" text-anchor="end" font-weight="normal" fill="#222" letter-spacing="-0.4">40</text>
<line x1="44.70" y1="228.50" x2="47.50" y2="228.50" stroke="#555" stroke-width="0.9" />
<text x="43.50" y="231.50" font-size="8.2" text-anchor="end" font-weight="normal" fill="#222" letter-spacing="-0.4">60</text>
<line x1="44.70" y1="208.50" x2="47.50" y2="208.50" stroke="#555" stroke-width="0.9" />
<text x="43.50" y="211.50" font-size="8.2" text-anchor="end" font-weight="normal" fill="#222" letter-spacing="-0.4">80</text>
<line x1="44.70" y1="188.50" x2="47.50" y2="188.50" stroke="#555" stroke-width="0.9" />
<text x="43.50" y="191.50" font-size="8.2" text-anchor="end" font-weight="normal" fill="#222" letter-spacing="-0.4">100</text>
<line x1="46.00" y1="278.50" x2="47.50" y2="278.50" stroke="#888" stroke-width="0.6" />
<line x1="46.00" y1="258.50" x2="47.50" y2="258.50" stroke="#888" stroke-width="0.6" />
<line x1="46.00" y1="238.50" x2="47.50" y2="238.50" stroke="#888" stroke-width="0.6" />
<line x1="46.00" y1="218.50" x2="47.50" y2="218.50" stroke="#888" stroke-width="0.6" />
<line x1="46.00" y1="198.50" x2="47.50" y2="198.50" stroke="#888" stroke-width="0.6" />
<line x1="47.50" y1="288.50" x2="47.50" y2="291.00" stroke="#555" stroke-width="0.9" />
<text x="47.20" y="300.30" font-size="8.5" text-anchor="middle" font-weight="normal" fill="#222" letter-spacing="-0.35">10<tspan font-size="6.2" dy="-3.8">0</tspan></text>
<line x1="55.41" y1="288.50" x2="55.41" y2="289.80" stroke="#999" stroke-width="0.5" />
<line x1="60.04" y1="288.50" x2="60.04" y2="289.80" stroke="#999" stroke-width="0.5" />
<line x1="63.32" y1="288.50" x2="63.32" y2="289.80" stroke="#999" stroke-width="0.5" />
<line x1="65.87" y1="288.50" x2="65.87" y2="289.80" stroke="#999" stroke-width="0.5" />
<line x1="67.95" y1="288.50" x2="67.95" y2="289.80" stroke="#999" stroke-width="0.5" />
<line x1="69.70" y1="288.50" x2="69.70" y2="289.80" stroke="#999" stroke-width="0.5" />
<line x1="71.23" y1="288.50" x2="71.23" y2="289.80" stroke="#999" stroke-width="0.5" />
<line x1="72.57" y1="288.50" x2="72.57" y2="289.80" stroke="#999" stroke-width="0.5" />
<line x1="73.78" y1="288.50" x2="73.78" y2="291.00" stroke="#555" stroke-width="0.9" />
<text x="73.48" y="300.30" font-size="8.5" text-anchor="middle" font-weight="normal" fill="#222" letter-spacing="-0.35">10<tspan font-size="6.2" dy="-3.8">1</tspan></text>
<line x1="81.68" y1="288.50" x2="81.68" y2="289.80" stroke="#999" stroke-width="0.5" />
<line x1="86.31" y1="288.50" x2="86.31" y2="289.80" stroke="#999" stroke-width="0.5" />
<line x1="89.59" y1="288.50" x2="89.59" y2="289.80" stroke="#999" stroke-width="0.5" />
<line x1="92.14" y1="288.50" x2="92.14" y2="289.80" stroke="#999" stroke-width="0.5" />
<line x1="94.22" y1="288.50" x2="94.22" y2="289.80" stroke="#999" stroke-width="0.5" />
<line x1="95.98" y1="288.50" x2="95.98" y2="289.80" stroke="#999" stroke-width="0.5" />
<line x1="97.50" y1="288.50" x2="97.50" y2="289.80" stroke="#999" stroke-width="0.5" />
<line x1="98.85" y1="288.50" x2="98.85" y2="289.80" stroke="#999" stroke-width="0.5" />
<line x1="100.05" y1="288.50" x2="100.05" y2="291.00" stroke="#555" stroke-width="0.9" />
<text x="99.75" y="300.30" font-size="8.5" text-anchor="middle" font-weight="normal" fill="#222" letter-spacing="-0.35">10<tspan font-size="6.2" dy="-3.8">2</tspan></text>
<line x1="107.96" y1="288.50" x2="107.96" y2="289.80" stroke="#999" stroke-width="0.5" />
<line x1="112.59" y1="288.50" x2="112.59" y2="289.80" stroke="#999" stroke-width="0.5" />
<line x1="115.87" y1="288.50" x2="115.87" y2="289.80" stroke="#999" stroke-width="0.5" />
<line x1="118.42" y1="288.50" x2="118.42" y2="289.80" stroke="#999" stroke-width="0.5" />
<line x1="120.50" y1="288.50" x2="120.50" y2="289.80" stroke="#999" stroke-width="0.5" />
<line x1="122.25" y1="288.50" x2="122.25" y2="289.80" stroke="#999" stroke-width="0.5" />
<line x1="123.78" y1="288.50" x2="123.78" y2="289.80" stroke="#999" stroke-width="0.5" />
<line x1="125.12" y1="288.50" x2="125.12" y2="289.80" stroke="#999" stroke-width="0.5" />
<line x1="126.32" y1="288.50" x2="126.32" y2="291.00" stroke="#555" stroke-width="0.9" />
<text x="126.02" y="300.30" font-size="8.5" text-anchor="middle" font-weight="normal" fill="#222" letter-spacing="-0.35">10<tspan font-size="6.2" dy="-3.8">3</tspan></text>
<line x1="134.23" y1="288.50" x2="134.23" y2="289.80" stroke="#999" stroke-width="0.5" />
<line x1="138.86" y1="288.50" x2="138.86" y2="289.80" stroke="#999" stroke-width="0.5" />
<line x1="142.14" y1="288.50" x2="142.14" y2="289.80" stroke="#999" stroke-width="0.5" />
<line x1="144.69" y1="288.50" x2="144.69" y2="289.80" stroke="#999" stroke-width="0.5" />
<line x1="146.77" y1="288.50" x2="146.77" y2="289.80" stroke="#999" stroke-width="0.5" />
<line x1="148.53" y1="288.50" x2="148.53" y2="289.80" stroke="#999" stroke-width="0.5" />
<line x1="150.05" y1="288.50" x2="150.05" y2="289.80" stroke="#999" stroke-width="0.5" />
<line x1="151.40" y1="288.50" x2="151.40" y2="289.80" stroke="#999" stroke-width="0.5" />
<line x1="152.60" y1="288.50" x2="152.60" y2="291.00" stroke="#555" stroke-width="0.9" />
<text x="152.30" y="300.30" font-size="8.5" text-anchor="middle" font-weight="normal" fill="#222" letter-spacing="-0.35">10<tspan font-size="6.2" dy="-3.8">4</tspan></text>
<text transform="translate(23.8,237.3) rotate(-90)" font-size="11.3" text-anchor="middle" fill="#1a1a1a">% of Max</text>
<text x="98.00" y="313.60" font-size="10.8" text-anchor="middle" font-weight="normal" fill="#1a1a1a" >CD184 (1D9)</text>
<clipPath id="c223"><rect x="223.8" y="183.5" width="105.09999999999997" height="106.2"/></clipPath>
<rect x="223.8" y="183.5" width="105.09999999999997" height="105.0" fill="none" stroke="#7d7d7d" stroke-width="1"/>
<g clip-path="url(#c223)">
<polyline fill="none" stroke="#000" stroke-width="2.0" stroke-linejoin="round" stroke-linecap="butt" points="223.8,287.8 224.4,273.3 225.7,286.3 226.6,286.9 227.5,286.2 228.4,287.9 229.3,286.4 230.1,287.3 231.0,286.4 231.9,287.1 232.8,287.3 233.7,283.5 234.7,284.3 235.6,284.3 236.5,283.1 237.4,281.9 238.4,284.0 239.3,280.0 240.3,275.8 241.3,277.2 242.2,271.5 243.2,274.0 244.2,269.2 245.1,268.5 246.1,268.7 247.1,264.6 248.1,259.6 248.9,255.6 249.7,258.7 250.5,254.5 251.3,247.5 252.2,245.4 253.0,238.0 253.9,232.1 254.8,215.3 255.8,214.0 256.8,210.8 257.8,202.5 258.7,195.5 259.7,190.0 261.0,192.7 262.0,199.2 262.9,212.1 263.7,205.7 264.4,214.5 265.2,222.2 266.2,235.2 267.1,241.9 268.1,255.5 269.1,260.8 269.9,271.0 270.7,278.0 271.6,281.5 272.4,283.4 273.3,285.9 274.2,287.1 275.1,287.0 275.9,287.3 276.8,287.3 277.7,287.8 278.6,287.9 279.5,288.3 280.4,288.1 281.3,288.3 282.2,288.2 283.1,288.3 284.0,288.3 284.9,288.3 285.8,288.3 286.7,288.3 287.6,288.3 288.5,288.3 289.4,288.1 290.3,288.1 291.2,288.3 292.1,288.3 293.0,288.1 293.9,288.3 294.8,288.1 295.7,288.3 296.6,288.2 297.5,288.3 298.4,288.3 299.3,288.2 300.2,288.3 301.1,288.3 302.0,288.3 302.8,288.2 303.7,288.3 304.6,288.3 305.5,288.3 306.4,288.3 307.3,288.3 308.2,288.3 309.1,288.3 310.0,288.3 310.9,288.3 311.8,288.3 312.7,288.3 313.6,288.3 314.5,288.3 315.4,288.3 316.3,288.3 317.2,288.3 318.1,288.3 319.0,288.3 319.9,288.3 320.8,288.3 321.7,288.3 322.6,288.3 323.5,288.3 324.4,288.3 325.3,288.3 326.2,288.3 327.1,288.3 328.0,288.3 328.9,288.3"/>
<polyline fill="none" stroke="#ff2808" stroke-width="2.0" stroke-linejoin="round" stroke-linecap="butt" points="223.8,288.3 224.7,288.3 225.6,288.1 226.5,288.3 227.4,288.3 228.3,288.3 229.3,288.1 230.2,288.1 231.1,288.1 232.0,288.3 232.9,288.3 233.8,288.3 234.7,288.3 235.6,288.3 236.5,288.3 237.4,288.3 238.4,288.0 239.2,287.8 240.1,287.4 241.0,287.4 241.9,287.4 242.8,286.9 243.6,286.8 244.5,285.4 245.4,285.9 246.3,285.8 247.2,285.0 248.1,284.8 249.0,285.2 249.9,285.8 250.7,284.3 251.6,283.6 252.5,281.5 253.4,284.3 254.3,282.1 255.2,281.6 256.1,280.0 256.9,281.5 257.8,280.7 258.6,282.2 259.4,282.9 260.3,282.5 261.2,282.8 262.1,281.7 263.0,283.9 263.9,281.9 264.8,280.7 265.7,282.3 266.6,281.7 267.5,281.5 268.4,282.0 269.3,282.6 270.2,281.0 271.2,282.0 272.1,283.5 273.0,282.6 273.9,281.7 274.8,281.9 275.8,281.5 276.7,281.5 277.6,282.2 278.5,281.3 279.5,278.7 280.4,281.2 281.3,279.6 282.2,280.7 283.2,278.7 284.1,279.0 285.0,281.0 285.9,276.2 286.9,275.5 287.8,274.3 288.7,272.2 289.6,272.2 290.6,274.8 291.5,272.5 292.4,269.9 293.3,269.8 294.3,271.6 295.3,267.5 296.2,266.6 297.2,266.3 298.0,266.4 298.9,265.8 299.7,262.1 300.6,258.2 301.4,256.4 302.2,256.3 303.0,251.5 303.8,243.0 304.6,241.1 305.4,233.2 306.2,224.9 306.9,215.5 307.7,202.8 308.5,195.8 309.8,190.0 310.8,200.6 311.8,203.1 312.7,206.5 313.7,225.0 314.7,234.4 315.6,237.9 316.6,257.1 317.6,264.1 318.3,271.6 319.1,271.3 319.8,279.3 320.7,280.9 321.5,282.4 322.3,284.1 323.1,286.4 324.0,285.2 325.0,285.8 326.0,286.9 327.0,287.0 327.9,287.8 328.9,287.9"/>
<polyline fill="none" stroke="#0a30f5" stroke-width="2.0" stroke-linejoin="round" stroke-linecap="butt" points="223.8,288.1 224.8,288.3 225.7,288.1 226.7,288.1 227.7,288.3 228.7,287.9 229.6,287.5 230.5,287.3 231.4,286.0 232.3,285.7 233.3,285.7 234.2,285.8 235.1,284.7 236.0,284.5 237.0,282.4 237.9,283.3 238.8,281.4 239.7,280.8 240.7,274.5 241.6,280.8 242.6,276.7 243.5,270.7 244.5,273.0 245.5,272.1 246.4,271.8 247.2,263.4 248.1,268.8 248.9,261.1 249.7,267.2 250.5,255.9 251.3,256.1 252.1,249.3 252.9,243.5 253.7,251.1 254.5,249.2 255.3,250.6 256.1,246.6 256.9,239.4 257.8,233.5 258.6,236.6 259.4,235.3 260.2,235.1 261.0,241.6 261.8,240.9 262.6,238.7 263.4,238.4 264.1,234.9 264.9,234.4 265.8,230.6 266.8,225.3 267.6,212.5 268.3,203.7 269.1,215.5 269.8,204.9 270.6,207.5 271.3,190.0 272.2,194.3 273.1,194.8 273.9,190.0 274.7,190.7 275.5,198.9 276.4,201.9 277.2,205.7 278.0,190.0 278.9,190.0 279.7,194.5 280.5,198.2 281.3,194.7 282.0,190.0 282.8,198.8 283.5,198.3 284.3,196.3 285.1,191.7 286.0,198.0 286.9,202.5 287.7,197.8 288.6,193.8 289.4,209.4 290.2,214.4 291.0,216.2 291.7,225.0 292.5,223.0 293.2,230.8 294.0,235.2 294.8,244.4 295.7,253.7 296.6,251.8 297.4,264.7 298.3,267.3 299.1,269.5 300.0,271.7 300.8,277.3 301.6,275.4 302.4,278.4 303.4,278.4 304.3,282.6 305.3,285.3 306.3,285.7 307.2,286.1 308.2,286.1 309.2,286.8 310.1,287.4 311.1,288.1 312.0,288.1 312.9,288.0 313.8,288.0 314.7,288.1 315.6,287.9 316.4,288.2 317.3,288.2 318.2,288.3 319.1,288.1 320.0,288.0 320.9,288.1 321.8,288.3 322.7,288.0 323.6,288.2 324.5,288.2 325.3,288.3 326.2,288.3 327.1,288.3 328.0,288.3 328.9,288.0"/>
<polyline fill="none" stroke="#0cff14" stroke-width="2.0" stroke-linejoin="round" stroke-linecap="butt" points="223.8,288.3 224.7,288.3 225.6,288.3 226.5,288.3 227.4,288.3 228.3,288.3 229.2,288.3 230.1,288.2 231.0,288.3 231.9,288.1 232.8,288.1 233.7,288.2 234.6,288.3 235.5,288.3 236.4,288.2 237.3,288.2 238.2,288.3 239.1,288.2 240.0,288.2 240.9,288.1 241.8,288.3 242.7,288.3 243.6,288.3 244.5,288.2 245.4,288.3 246.3,288.3 247.2,288.1 248.1,288.3 249.0,287.9 249.9,287.7 250.7,287.3 251.6,286.9 252.5,286.8 253.4,286.3 254.3,286.2 255.2,286.8 256.1,285.1 257.0,286.0 257.9,285.0 258.8,284.5 259.7,286.1 260.6,283.9 261.5,285.7 262.4,284.5 263.3,285.0 264.2,282.6 265.1,284.4 266.0,284.6 266.9,283.1 267.8,283.0 268.7,285.3 269.6,283.1 270.5,282.4 271.4,282.1 272.3,283.1 273.2,282.9 274.1,282.6 275.0,284.1 275.9,282.0 276.8,282.7 277.7,283.6 278.6,281.0 279.5,283.0 280.4,283.7 281.3,280.0 282.2,279.8 283.0,279.4 283.9,278.0 284.8,280.2 285.7,277.0 286.6,279.4 287.4,280.2 288.3,275.8 289.2,277.0 290.1,274.4 291.0,277.0 291.9,273.8 292.8,273.4 293.8,272.8 294.7,272.5 295.6,269.9 296.6,268.6 297.5,265.6 298.5,264.9 299.5,260.4 300.4,261.0 301.3,253.7 302.1,253.9 303.0,256.7 303.8,249.4 304.6,243.0 305.5,241.4 306.3,232.1 307.1,224.3 307.9,221.3 308.6,218.6 309.4,210.0 310.1,200.7 311.0,192.7 311.8,190.0 313.1,196.7 314.0,200.4 315.0,204.1 316.0,211.8 316.9,226.0 317.9,248.2 318.9,250.0 319.7,260.1 320.6,268.2 321.5,275.1 322.3,278.3 323.2,280.4 324.0,284.3 325.0,286.8 326.0,285.8 327.0,286.8 327.9,287.4 328.9,287.9"/>
<polyline fill="none" stroke="#00ffff" stroke-width="2.0" stroke-linejoin="round" stroke-linecap="butt" points="223.8,288.3 224.7,288.3 225.6,288.3 226.5,288.3 227.5,288.3 228.4,288.3 229.3,288.3 230.2,288.3 231.1,288.3 232.0,288.3 232.9,288.2 233.9,288.1 234.8,288.3 235.7,288.3 236.6,288.3 237.5,288.3 238.4,288.3 239.3,288.3 240.3,288.3 241.2,288.3 242.1,288.0 243.0,288.3 243.9,288.2 244.8,288.3 245.7,287.9 246.6,287.6 247.5,287.4 248.3,287.2 249.2,286.9 250.1,286.5 251.0,286.5 251.9,286.0 252.8,286.0 253.6,284.5 254.5,285.8 255.4,284.4 256.3,285.4 257.2,284.4 258.0,282.5 258.9,282.8 259.8,284.6 260.7,283.3 261.6,282.8 262.5,283.2 263.3,282.3 264.2,282.0 265.1,282.6 266.1,282.6 267.0,283.9 267.9,282.5 268.8,284.3 269.8,284.2 270.7,284.1 271.6,283.5 272.5,282.6 273.5,282.6 274.4,282.3 275.3,281.8 276.2,282.4 277.2,281.9 278.0,283.7 278.9,282.2 279.8,280.8 280.7,278.7 281.6,280.4 282.5,279.5 283.3,278.3 284.2,277.8 285.1,276.0 286.0,279.1 286.9,277.9 287.7,280.7 288.6,276.6 289.5,275.8 290.4,277.5 291.3,274.9 292.2,274.3 293.1,272.9 294.0,271.8 294.9,273.8 295.8,271.6 296.7,271.5 297.6,266.3 298.6,265.6 299.5,262.3 300.3,263.5 301.2,255.9 302.0,257.6 302.8,256.3 303.7,254.6 304.6,244.3 305.6,245.2 306.6,235.8 307.6,231.1 308.4,221.7 309.3,222.2 310.1,216.6 310.9,203.2 311.7,197.1 312.4,193.3 313.7,200.6 315.0,198.5 316.0,202.3 316.9,207.8 317.9,223.2 318.9,240.0 319.8,252.7 320.8,258.6 321.6,263.8 322.3,270.2 323.1,274.5 323.8,280.5 324.6,280.9 325.3,285.3 326.2,283.9 327.1,285.1 328.0,286.8 328.9,287.0"/>
</g>
<line x1="221.00" y1="288.50" x2="223.80" y2="288.50" stroke="#555" stroke-width="0.9" />
<text x="219.80" y="291.50" font-size="8.2" text-anchor="end" font-weight="normal" fill="#222" letter-spacing="-0.4">0</text>
<line x1="221.00" y1="268.50" x2="223.80" y2="268.50" stroke="#555" stroke-width="0.9" />
<text x="219.80" y="271.50" font-size="8.2" text-anchor="end" font-weight="normal" fill="#222" letter-spacing="-0.4">20</text>
<line x1="221.00" y1="248.50" x2="223.80" y2="248.50" stroke="#555" stroke-width="0.9" />
<text x="219.80" y="251.50" font-size="8.2" text-anchor="end" font-weight="normal" fill="#222" letter-spacing="-0.4">40</text>
<line x1="221.00" y1="228.50" x2="223.80" y2="228.50" stroke="#555" stroke-width="0.9" />
<text x="219.80" y="231.50" font-size="8.2" text-anchor="end" font-weight="normal" fill="#222" letter-spacing="-0.4">60</text>
<line x1="221.00" y1="208.50" x2="223.80" y2="208.50" stroke="#555" stroke-width="0.9" />
<text x="219.80" y="211.50" font-size="8.2" text-anchor="end" font-weight="normal" fill="#222" letter-spacing="-0.4">80</text>
<line x1="221.00" y1="188.50" x2="223.80" y2="188.50" stroke="#555" stroke-width="0.9" />
<text x="219.80" y="191.50" font-size="8.2" text-anchor="end" font-weight="normal" fill="#222" letter-spacing="-0.4">100</text>
<line x1="222.30" y1="278.50" x2="223.80" y2="278.50" stroke="#888" stroke-width="0.6" />
<line x1="222.30" y1="258.50" x2="223.80" y2="258.50" stroke="#888" stroke-width="0.6" />
<line x1="222.30" y1="238.50" x2="223.80" y2="238.50" stroke="#888" stroke-width="0.6" />
<line x1="222.30" y1="218.50" x2="223.80" y2="218.50" stroke="#888" stroke-width="0.6" />
<line x1="222.30" y1="198.50" x2="223.80" y2="198.50" stroke="#888" stroke-width="0.6" />
<line x1="223.80" y1="288.50" x2="223.80" y2="291.00" stroke="#555" stroke-width="0.9" />
<text x="223.50" y="300.30" font-size="8.5" text-anchor="middle" font-weight="normal" fill="#222" letter-spacing="-0.35">10<tspan font-size="6.2" dy="-3.8">0</tspan></text>
<line x1="231.71" y1="288.50" x2="231.71" y2="289.80" stroke="#999" stroke-width="0.5" />
<line x1="236.34" y1="288.50" x2="236.34" y2="289.80" stroke="#999" stroke-width="0.5" />
<line x1="239.62" y1="288.50" x2="239.62" y2="289.80" stroke="#999" stroke-width="0.5" />
<line x1="242.17" y1="288.50" x2="242.17" y2="289.80" stroke="#999" stroke-width="0.5" />
<line x1="244.25" y1="288.50" x2="244.25" y2="289.80" stroke="#999" stroke-width="0.5" />
<line x1="246.00" y1="288.50" x2="246.00" y2="289.80" stroke="#999" stroke-width="0.5" />
<line x1="247.53" y1="288.50" x2="247.53" y2="289.80" stroke="#999" stroke-width="0.5" />
<line x1="248.87" y1="288.50" x2="248.87" y2="289.80" stroke="#999" stroke-width="0.5" />
<line x1="250.07" y1="288.50" x2="250.07" y2="291.00" stroke="#555" stroke-width="0.9" />
<text x="249.77" y="300.30" font-size="8.5" text-anchor="middle" font-weight="normal" fill="#222" letter-spacing="-0.35">10<tspan font-size="6.2" dy="-3.8">1</tspan></text>
<line x1="257.98" y1="288.50" x2="257.98" y2="289.80" stroke="#999" stroke-width="0.5" />
<line x1="262.61" y1="288.50" x2="262.61" y2="289.80" stroke="#999" stroke-width="0.5" />
<line x1="265.89" y1="288.50" x2="265.89" y2="289.80" stroke="#999" stroke-width="0.5" />
<line x1="268.44" y1="288.50" x2="268.44" y2="289.80" stroke="#999" stroke-width="0.5" />
<line x1="270.52" y1="288.50" x2="270.52" y2="289.80" stroke="#999" stroke-width="0.5" />
<line x1="272.28" y1="288.50" x2="272.28" y2="289.80" stroke="#999" stroke-width="0.5" />
<line x1="273.80" y1="288.50" x2="273.80" y2="289.80" stroke="#999" stroke-width="0.5" />
<line x1="275.15" y1="288.50" x2="275.15" y2="289.80" stroke="#999" stroke-width="0.5" />
<line x1="276.35" y1="288.50" x2="276.35" y2="291.00" stroke="#555" stroke-width="0.9" />
<text x="276.05" y="300.30" font-size="8.5" text-anchor="middle" font-weight="normal" fill="#222" letter-spacing="-0.35">10<tspan font-size="6.2" dy="-3.8">2</tspan></text>
<line x1="284.26" y1="288.50" x2="284.26" y2="289.80" stroke="#999" stroke-width="0.5" />
<line x1="288.89" y1="288.50" x2="288.89" y2="289.80" stroke="#999" stroke-width="0.5" />
<line x1="292.17" y1="288.50" x2="292.17" y2="289.80" stroke="#999" stroke-width="0.5" />
<line x1="294.72" y1="288.50" x2="294.72" y2="289.80" stroke="#999" stroke-width="0.5" />
<line x1="296.80" y1="288.50" x2="296.80" y2="289.80" stroke="#999" stroke-width="0.5" />
<line x1="298.55" y1="288.50" x2="298.55" y2="289.80" stroke="#999" stroke-width="0.5" />
<line x1="300.08" y1="288.50" x2="300.08" y2="289.80" stroke="#999" stroke-width="0.5" />
<line x1="301.42" y1="288.50" x2="301.42" y2="289.80" stroke="#999" stroke-width="0.5" />
<line x1="302.62" y1="288.50" x2="302.62" y2="291.00" stroke="#555" stroke-width="0.9" />
<text x="302.32" y="300.30" font-size="8.5" text-anchor="middle" font-weight="normal" fill="#222" letter-spacing="-0.35">10<tspan font-size="6.2" dy="-3.8">3</tspan></text>
<line x1="310.53" y1="288.50" x2="310.53" y2="289.80" stroke="#999" stroke-width="0.5" />
<line x1="315.16" y1="288.50" x2="315.16" y2="289.80" stroke="#999" stroke-width="0.5" />
<line x1="318.44" y1="288.50" x2="318.44" y2="289.80" stroke="#999" stroke-width="0.5" />
<line x1="320.99" y1="288.50" x2="320.99" y2="289.80" stroke="#999" stroke-width="0.5" />
<line x1="323.07" y1="288.50" x2="323.07" y2="289.80" stroke="#999" stroke-width="0.5" />
<line x1="324.83" y1="288.50" x2="324.83" y2="289.80" stroke="#999" stroke-width="0.5" />
<line x1="326.35" y1="288.50" x2="326.35" y2="289.80" stroke="#999" stroke-width="0.5" />
<line x1="327.70" y1="288.50" x2="327.70" y2="289.80" stroke="#999" stroke-width="0.5" />
<line x1="328.90" y1="288.50" x2="328.90" y2="291.00" stroke="#555" stroke-width="0.9" />
<text x="328.60" y="300.30" font-size="8.5" text-anchor="middle" font-weight="normal" fill="#222" letter-spacing="-0.35">10<tspan font-size="6.2" dy="-3.8">4</tspan></text>
<text transform="translate(200.10000000000002,237.3) rotate(-90)" font-size="11.3" text-anchor="middle" fill="#1a1a1a">% of Max</text>
<text x="275.20" y="313.60" font-size="10.8" text-anchor="middle" font-weight="normal" fill="#1a1a1a" >CD184 (1D9)</text>
<clipPath id="c398"><rect x="398.1" y="183.5" width="104.89999999999998" height="106.2"/></clipPath>
<rect x="398.1" y="183.5" width="104.89999999999998" height="105.0" fill="none" stroke="#7d7d7d" stroke-width="1"/>
<g clip-path="url(#c398)">
<polyline fill="none" stroke="#000" stroke-width="2.0" stroke-linejoin="round" stroke-linecap="butt" points="398.1,287.7 399.4,278.1 400.2,281.6 401.0,283.3 401.9,286.4 402.8,285.9 403.7,286.4 404.6,285.2 405.5,286.3 406.5,286.3 407.4,286.8 408.3,285.1 409.2,285.1 410.2,284.1 411.1,285.1 412.0,285.2 412.9,283.5 413.8,283.4 414.7,283.6 415.5,283.9 416.4,282.2 417.3,280.4 418.1,278.5 419.1,276.1 420.0,273.8 421.0,272.4 422.0,269.5 423.0,270.1 423.8,263.6 424.6,256.7 425.4,258.7 426.2,253.5 427.0,246.2 427.8,238.7 428.6,229.9 429.4,227.0 430.2,227.4 431.0,216.2 431.8,208.6 432.6,208.2 433.4,203.6 434.1,200.1 434.9,195.5 435.9,197.4 436.8,190.0 437.6,198.0 438.3,193.9 439.1,203.7 439.9,211.4 440.7,221.3 441.5,233.1 442.3,239.8 443.1,250.7 443.9,258.0 444.7,264.3 445.5,271.2 446.3,274.3 447.1,277.9 447.8,281.6 448.7,283.3 449.5,287.1 450.4,286.7 451.3,287.0 452.2,287.0 453.2,287.1 454.1,287.7 455.0,288.0 455.9,287.9 456.8,288.1 457.7,288.1 458.7,288.3 459.6,288.3 460.5,288.1 461.4,288.3 462.3,288.3 463.2,288.2 464.1,288.3 465.0,288.3 465.9,288.2 466.8,288.3 467.7,288.1 468.6,288.2 469.5,288.3 470.4,288.3 471.3,288.3 472.2,288.3 473.1,288.2 474.0,288.3 474.9,288.3 475.8,288.3 476.8,288.3 477.7,288.3 478.6,288.3 479.5,288.3 480.4,288.2 481.3,288.3 482.2,288.3 483.1,288.3 484.0,288.3 484.9,288.3 485.8,288.3 486.7,288.3 487.6,288.3 488.5,288.3 489.4,288.3 490.3,288.3 491.2,288.3 492.1,288.3 493.0,288.3 493.9,288.3 494.9,288.3 495.8,288.3 496.7,288.3 497.6,288.3 498.5,288.3 499.4,288.3 500.3,288.3 501.2,288.3 502.1,288.3 503.0,288.3"/>
<polyline fill="none" stroke="#ff2808" stroke-width="2.0" stroke-linejoin="round" stroke-linecap="butt" points="398.1,288.3 399.0,288.3 399.9,288.3 400.7,288.3 401.6,288.3 402.5,288.1 403.4,288.3 404.2,288.2 405.1,288.2 406.0,288.3 406.9,288.3 407.7,288.3 408.6,288.1 409.5,288.3 410.4,288.1 411.3,287.7 412.2,287.0 413.1,285.2 414.1,285.6 415.0,285.1 415.9,284.1 416.8,282.6 417.8,281.1 418.8,278.5 419.7,277.1 420.7,273.2 421.7,273.9 422.5,266.0 423.3,265.3 424.1,262.5 424.9,261.3 425.7,253.8 426.5,252.5 427.3,245.6 428.1,245.1 428.9,243.9 429.7,233.8 430.5,232.3 431.3,224.0 432.2,226.8 433.0,224.4 433.8,217.3 434.6,210.1 435.4,212.2 436.2,211.7 437.0,208.3 437.8,204.1 438.6,192.0 439.3,194.2 440.1,200.1 441.0,190.0 442.0,195.8 442.7,200.9 443.5,198.6 444.3,202.1 445.0,200.9 445.8,202.0 446.5,210.4 447.4,215.5 448.2,221.4 449.1,229.1 449.9,230.5 450.7,235.5 451.5,240.2 452.3,243.1 453.1,251.1 453.9,250.6 454.7,253.0 455.6,255.5 456.4,256.6 457.2,262.9 458.0,262.4 458.8,261.9 459.7,264.6 460.7,267.0 461.7,268.1 462.7,272.4 463.6,270.3 464.6,274.2 465.6,274.9 466.5,274.4 467.5,277.4 468.5,278.5 469.4,280.0 470.4,279.6 471.4,281.3 472.3,280.0 473.3,281.4 474.1,283.8 475.0,284.7 475.8,284.4 476.7,284.6 477.5,286.4 478.4,284.7 479.3,285.8 480.2,286.9 481.1,286.8 481.9,287.4 482.8,287.3 483.7,287.6 484.6,288.2 485.5,288.2 486.4,287.7 487.4,288.0 488.3,287.9 489.2,288.0 490.1,288.1 491.0,287.8 492.0,287.8 492.9,287.9 493.8,288.3 494.7,288.2 495.6,288.3 496.6,287.9 497.5,288.3 498.4,288.1 499.3,288.3 500.2,288.1 501.2,288.3 502.1,288.2 503.0,288.1"/>
<polyline fill="none" stroke="#0a1ed2" stroke-width="2.0" stroke-linejoin="round" stroke-linecap="butt" points="398.1,287.7 399.4,277.6 400.2,279.9 401.0,284.3 401.9,285.6 402.8,284.8 403.7,285.5 404.6,286.2 405.5,286.6 406.4,286.0 407.4,286.5 408.3,285.6 409.2,285.9 410.1,286.0 411.1,285.5 412.0,285.3 412.9,282.9 413.9,281.7 414.9,281.4 415.9,281.6 416.8,281.9 417.8,276.0 418.8,275.5 419.7,271.1 420.7,268.6 421.7,266.8 422.5,264.6 423.3,259.7 424.1,257.9 424.9,248.7 425.7,248.2 426.5,243.2 427.3,235.6 428.1,231.6 428.9,222.7 429.7,215.2 430.5,211.8 431.3,205.2 432.1,213.4 432.9,196.0 433.6,199.4 434.6,192.6 435.5,192.0 436.3,197.1 437.0,194.6 437.8,204.5 438.6,212.1 439.4,215.5 440.2,232.0 441.0,241.4 441.8,249.1 442.6,259.6 443.4,263.3 444.3,273.0 445.0,276.5 445.8,277.5 446.5,283.1 447.4,282.1 448.2,283.9 449.1,286.7 450.0,286.1 450.9,287.1 451.9,287.2 452.8,287.7 453.7,287.5 454.6,288.2 455.6,288.3 456.4,288.3 457.3,288.3 458.2,288.3 459.1,288.3 460.0,288.3 460.9,288.2 461.8,288.3 462.7,288.2 463.6,288.3 464.5,288.3 465.4,288.2 466.3,288.3 467.2,288.3 468.1,288.3 469.0,288.3 469.9,288.2 470.8,288.1 471.7,288.1 472.6,288.3 473.5,288.3 474.4,288.3 475.2,288.3 476.1,288.3 477.0,288.3 477.9,288.3 478.8,288.3 479.7,288.3 480.6,288.3 481.5,288.3 482.4,288.3 483.3,288.3 484.2,288.3 485.1,288.3 486.0,288.3 486.9,288.3 487.8,288.3 488.7,288.3 489.6,288.3 490.5,288.3 491.4,288.3 492.3,288.3 493.2,288.3 494.0,288.3 494.9,288.3 495.8,288.3 496.7,288.3 497.6,288.3 498.5,288.3 499.4,288.3 500.3,288.3 501.2,288.3 502.1,288.3 503.0,288.3"/>
<polyline fill="none" stroke="#0cff14" stroke-width="2.0" stroke-linejoin="round" stroke-linecap="butt" points="398.1,288.3 399.0,288.3 399.9,288.1 400.8,288.3 401.7,288.3 402.7,288.1 403.6,288.1 404.5,288.3 405.4,288.3 406.3,288.1 407.2,288.3 408.1,288.3 409.0,288.3 409.9,288.3 410.9,288.3 411.8,288.2 412.7,288.0 413.6,288.2 414.5,287.6 415.4,286.6 416.4,285.0 417.3,283.0 418.2,282.4 419.1,280.5 420.0,281.9 421.0,279.3 422.0,278.0 423.0,273.9 423.9,270.4 424.9,267.6 425.7,269.3 426.5,258.9 427.3,259.6 428.1,256.0 428.9,253.4 429.7,246.9 430.5,245.2 431.3,242.1 432.2,235.4 433.0,230.4 433.8,227.1 434.6,220.6 435.4,219.0 436.2,214.6 437.0,212.3 437.8,212.3 438.6,209.1 439.3,199.4 440.1,200.1 440.9,196.6 441.8,196.1 442.6,190.8 443.4,192.9 444.3,191.2 445.0,194.8 445.8,205.9 446.5,212.2 447.4,215.2 448.2,219.8 449.1,224.5 450.0,227.7 450.8,229.2 451.7,241.7 452.5,245.2 453.4,248.1 454.3,252.1 455.2,261.0 456.2,258.2 457.2,269.0 458.0,268.9 458.8,273.8 459.6,270.6 460.4,273.7 461.2,274.3 462.1,276.6 462.9,277.4 463.8,278.0 464.6,281.4 465.6,280.4 466.5,281.8 467.5,283.9 468.5,284.0 469.4,284.5 470.3,285.5 471.2,285.4 472.2,285.3 473.1,286.4 474.0,286.8 474.9,287.4 475.8,287.3 476.7,287.1 477.6,287.3 478.5,287.6 479.4,287.4 480.4,287.5 481.3,287.4 482.2,287.4 483.1,287.5 484.0,287.6 484.9,287.9 485.8,287.9 486.7,287.5 487.6,287.9 488.5,287.7 489.4,287.9 490.3,288.1 491.2,287.8 492.1,287.7 493.0,288.2 493.9,287.7 494.8,287.7 495.8,287.9 496.7,288.0 497.6,288.2 498.5,288.0 499.4,288.3 500.3,288.1 501.2,288.1 502.1,288.0 503.0,288.2"/>
<polyline fill="none" stroke="#00ffff" stroke-width="2.0" stroke-linejoin="round" stroke-linecap="butt" points="398.1,288.1 399.0,288.1 400.0,288.2 400.9,288.2 401.8,288.3 402.7,288.3 403.7,288.3 404.6,288.2 405.5,288.1 406.4,288.3 407.4,288.3 408.3,288.3 409.2,288.3 410.1,288.3 411.1,288.3 412.0,288.3 412.9,287.3 413.8,286.8 414.7,285.2 415.7,283.8 416.6,284.3 417.5,283.5 418.4,282.6 419.4,281.5 420.4,280.0 421.3,276.8 422.3,276.8 423.3,274.2 424.2,271.9 425.2,269.2 426.2,266.4 427.1,260.1 428.0,255.3 428.8,252.9 429.6,251.7 430.4,238.9 431.2,242.4 432.0,234.3 432.8,233.4 433.6,228.2 434.4,221.7 435.2,216.1 436.0,213.6 436.8,212.5 437.7,203.4 438.6,204.4 439.4,198.8 440.3,195.8 441.1,191.2 442.0,190.0 442.8,193.8 443.6,192.3 444.4,192.9 445.1,197.0 445.9,204.5 446.7,206.8 447.6,213.0 448.5,216.8 449.3,224.7 450.2,227.0 451.0,230.3 452.0,240.1 453.0,244.6 453.9,245.5 454.7,251.2 455.6,254.0 456.4,257.2 457.2,265.9 458.0,261.7 458.8,263.3 459.6,264.5 460.4,266.2 461.2,263.9 462.1,269.5 462.9,271.5 463.8,271.6 464.6,274.8 465.5,276.5 466.4,278.5 467.3,280.9 468.2,279.3 469.1,279.2 469.9,279.7 470.8,283.0 471.6,281.8 472.5,283.1 473.3,284.4 474.2,284.3 475.1,284.7 476.1,285.2 477.0,284.2 477.9,285.7 478.8,286.6 479.8,286.0 480.7,287.1 481.6,287.2 482.5,287.3 483.3,287.5 484.2,287.3 485.1,287.5 486.0,287.9 486.9,287.9 487.8,288.1 488.7,288.2 489.6,288.3 490.5,287.8 491.4,287.9 492.3,288.2 493.2,287.9 494.1,287.9 495.0,287.9 495.9,288.3 496.8,287.9 497.6,288.3 498.5,288.2 499.4,288.2 500.3,288.2 501.2,288.3 502.1,288.3 503.0,288.2"/>
</g>
<line x1="395.30" y1="288.50" x2="398.10" y2="288.50" stroke="#555" stroke-width="0.9" />
<text x="394.10" y="291.50" font-size="8.2" text-anchor="end" font-weight="normal" fill="#222" letter-spacing="-0.4">0</text>
<line x1="395.30" y1="268.50" x2="398.10" y2="268.50" stroke="#555" stroke-width="0.9" />
<text x="394.10" y="271.50" font-size="8.2" text-anchor="end" font-weight="normal" fill="#222" letter-spacing="-0.4">20</text>
<line x1="395.30" y1="248.50" x2="398.10" y2="248.50" stroke="#555" stroke-width="0.9" />
<text x="394.10" y="251.50" font-size="8.2" text-anchor="end" font-weight="normal" fill="#222" letter-spacing="-0.4">40</text>
<line x1="395.30" y1="228.50" x2="398.10" y2="228.50" stroke="#555" stroke-width="0.9" />
<text x="394.10" y="231.50" font-size="8.2" text-anchor="end" font-weight="normal" fill="#222" letter-spacing="-0.4">60</text>
<line x1="395.30" y1="208.50" x2="398.10" y2="208.50" stroke="#555" stroke-width="0.9" />
<text x="394.10" y="211.50" font-size="8.2" text-anchor="end" font-weight="normal" fill="#222" letter-spacing="-0.4">80</text>
<line x1="395.30" y1="188.50" x2="398.10" y2="188.50" stroke="#555" stroke-width="0.9" />
<text x="394.10" y="191.50" font-size="8.2" text-anchor="end" font-weight="normal" fill="#222" letter-spacing="-0.4">100</text>
<line x1="396.60" y1="278.50" x2="398.10" y2="278.50" stroke="#888" stroke-width="0.6" />
<line x1="396.60" y1="258.50" x2="398.10" y2="258.50" stroke="#888" stroke-width="0.6" />
<line x1="396.60" y1="238.50" x2="398.10" y2="238.50" stroke="#888" stroke-width="0.6" />
<line x1="396.60" y1="218.50" x2="398.10" y2="218.50" stroke="#888" stroke-width="0.6" />
<line x1="396.60" y1="198.50" x2="398.10" y2="198.50" stroke="#888" stroke-width="0.6" />
<line x1="398.10" y1="288.50" x2="398.10" y2="291.00" stroke="#555" stroke-width="0.9" />
<text x="397.80" y="300.30" font-size="8.5" text-anchor="middle" font-weight="normal" fill="#222" letter-spacing="-0.35">10<tspan font-size="6.2" dy="-3.8">0</tspan></text>
<line x1="405.99" y1="288.50" x2="405.99" y2="289.80" stroke="#999" stroke-width="0.5" />
<line x1="410.61" y1="288.50" x2="410.61" y2="289.80" stroke="#999" stroke-width="0.5" />
<line x1="413.89" y1="288.50" x2="413.89" y2="289.80" stroke="#999" stroke-width="0.5" />
<line x1="416.43" y1="288.50" x2="416.43" y2="289.80" stroke="#999" stroke-width="0.5" />
<line x1="418.51" y1="288.50" x2="418.51" y2="289.80" stroke="#999" stroke-width="0.5" />
<line x1="420.26" y1="288.50" x2="420.26" y2="289.80" stroke="#999" stroke-width="0.5" />
<line x1="421.78" y1="288.50" x2="421.78" y2="289.80" stroke="#999" stroke-width="0.5" />
<line x1="423.13" y1="288.50" x2="423.13" y2="289.80" stroke="#999" stroke-width="0.5" />
<line x1="424.33" y1="288.50" x2="424.33" y2="291.00" stroke="#555" stroke-width="0.9" />
<text x="424.03" y="300.30" font-size="8.5" text-anchor="middle" font-weight="normal" fill="#222" letter-spacing="-0.35">10<tspan font-size="6.2" dy="-3.8">1</tspan></text>
<line x1="432.22" y1="288.50" x2="432.22" y2="289.80" stroke="#999" stroke-width="0.5" />
<line x1="436.84" y1="288.50" x2="436.84" y2="289.80" stroke="#999" stroke-width="0.5" />
<line x1="440.11" y1="288.50" x2="440.11" y2="289.80" stroke="#999" stroke-width="0.5" />
<line x1="442.66" y1="288.50" x2="442.66" y2="289.80" stroke="#999" stroke-width="0.5" />
<line x1="444.73" y1="288.50" x2="444.73" y2="289.80" stroke="#999" stroke-width="0.5" />
<line x1="446.49" y1="288.50" x2="446.49" y2="289.80" stroke="#999" stroke-width="0.5" />
<line x1="448.01" y1="288.50" x2="448.01" y2="289.80" stroke="#999" stroke-width="0.5" />
<line x1="449.35" y1="288.50" x2="449.35" y2="289.80" stroke="#999" stroke-width="0.5" />
<line x1="450.55" y1="288.50" x2="450.55" y2="291.00" stroke="#555" stroke-width="0.9" />
<text x="450.25" y="300.30" font-size="8.5" text-anchor="middle" font-weight="normal" fill="#222" letter-spacing="-0.35">10<tspan font-size="6.2" dy="-3.8">2</tspan></text>
<line x1="458.44" y1="288.50" x2="458.44" y2="289.80" stroke="#999" stroke-width="0.5" />
<line x1="463.06" y1="288.50" x2="463.06" y2="289.80" stroke="#999" stroke-width="0.5" />
<line x1="466.34" y1="288.50" x2="466.34" y2="289.80" stroke="#999" stroke-width="0.5" />
<line x1="468.88" y1="288.50" x2="468.88" y2="289.80" stroke="#999" stroke-width="0.5" />
<line x1="470.96" y1="288.50" x2="470.96" y2="289.80" stroke="#999" stroke-width="0.5" />
<line x1="472.71" y1="288.50" x2="472.71" y2="289.80" stroke="#999" stroke-width="0.5" />
<line x1="474.23" y1="288.50" x2="474.23" y2="289.80" stroke="#999" stroke-width="0.5" />
<line x1="475.58" y1="288.50" x2="475.58" y2="289.80" stroke="#999" stroke-width="0.5" />
<line x1="476.77" y1="288.50" x2="476.77" y2="291.00" stroke="#555" stroke-width="0.9" />
<text x="476.47" y="300.30" font-size="8.5" text-anchor="middle" font-weight="normal" fill="#222" letter-spacing="-0.35">10<tspan font-size="6.2" dy="-3.8">3</tspan></text>
<line x1="484.67" y1="288.50" x2="484.67" y2="289.80" stroke="#999" stroke-width="0.5" />
<line x1="489.29" y1="288.50" x2="489.29" y2="289.80" stroke="#999" stroke-width="0.5" />
<line x1="492.56" y1="288.50" x2="492.56" y2="289.80" stroke="#999" stroke-width="0.5" />
<line x1="495.11" y1="288.50" x2="495.11" y2="289.80" stroke="#999" stroke-width="0.5" />
<line x1="497.18" y1="288.50" x2="497.18" y2="289.80" stroke="#999" stroke-width="0.5" />
<line x1="498.94" y1="288.50" x2="498.94" y2="289.80" stroke="#999" stroke-width="0.5" />
<line x1="500.46" y1="288.50" x2="500.46" y2="289.80" stroke="#999" stroke-width="0.5" />
<line x1="501.80" y1="288.50" x2="501.80" y2="289.80" stroke="#999" stroke-width="0.5" />
<line x1="503.00" y1="288.50" x2="503.00" y2="291.00" stroke="#555" stroke-width="0.9" />
<text x="502.70" y="300.30" font-size="8.5" text-anchor="middle" font-weight="normal" fill="#222" letter-spacing="-0.35">10<tspan font-size="6.2" dy="-3.8">4</tspan></text>
<text transform="translate(374.40000000000003,237.3) rotate(-90)" font-size="11.3" text-anchor="middle" fill="#1a1a1a">% of Max</text>
<text x="449.50" y="313.60" font-size="10.8" text-anchor="middle" font-weight="normal" fill="#1a1a1a" >CD184 (1D9)</text>
<line x1="100.00" y1="334.00" x2="117.00" y2="334.00" stroke="#000" stroke-width="3.0" />
<text x="122.00" y="337.20" font-size="11" text-anchor="start" font-weight="normal" fill="#1a1a1a" >Isotype control</text>
<line x1="215.30" y1="334.00" x2="232.30" y2="334.00" stroke="#ff2808" stroke-width="3.0" />
<text x="237.30" y="337.20" font-size="11" text-anchor="start" font-weight="normal" fill="#1a1a1a" >No stroma + PBS</text>
<line x1="345.00" y1="334.00" x2="362.00" y2="334.00" stroke="#0a30f5" stroke-width="3.0" />
<text x="367.00" y="337.20" font-size="11" text-anchor="start" font-weight="normal" fill="#1a1a1a" >Stroma + PBS</text>
<line x1="100.30" y1="355.20" x2="117.30" y2="355.20" stroke="#00ffff" stroke-width="3.0" />
<text x="122.30" y="358.40" font-size="11" text-anchor="start" font-weight="normal" fill="#1a1a1a" >No stroma + 1 nM plerixafor</text>
<line x1="292.50" y1="355.20" x2="309.50" y2="355.20" stroke="#0cff14" stroke-width="3.0" />
<text x="314.50" y="358.40" font-size="11" text-anchor="start" font-weight="normal" fill="#1a1a1a" >Stroma + 1 nM plerixafor</text>
</svg>
</body></html>
